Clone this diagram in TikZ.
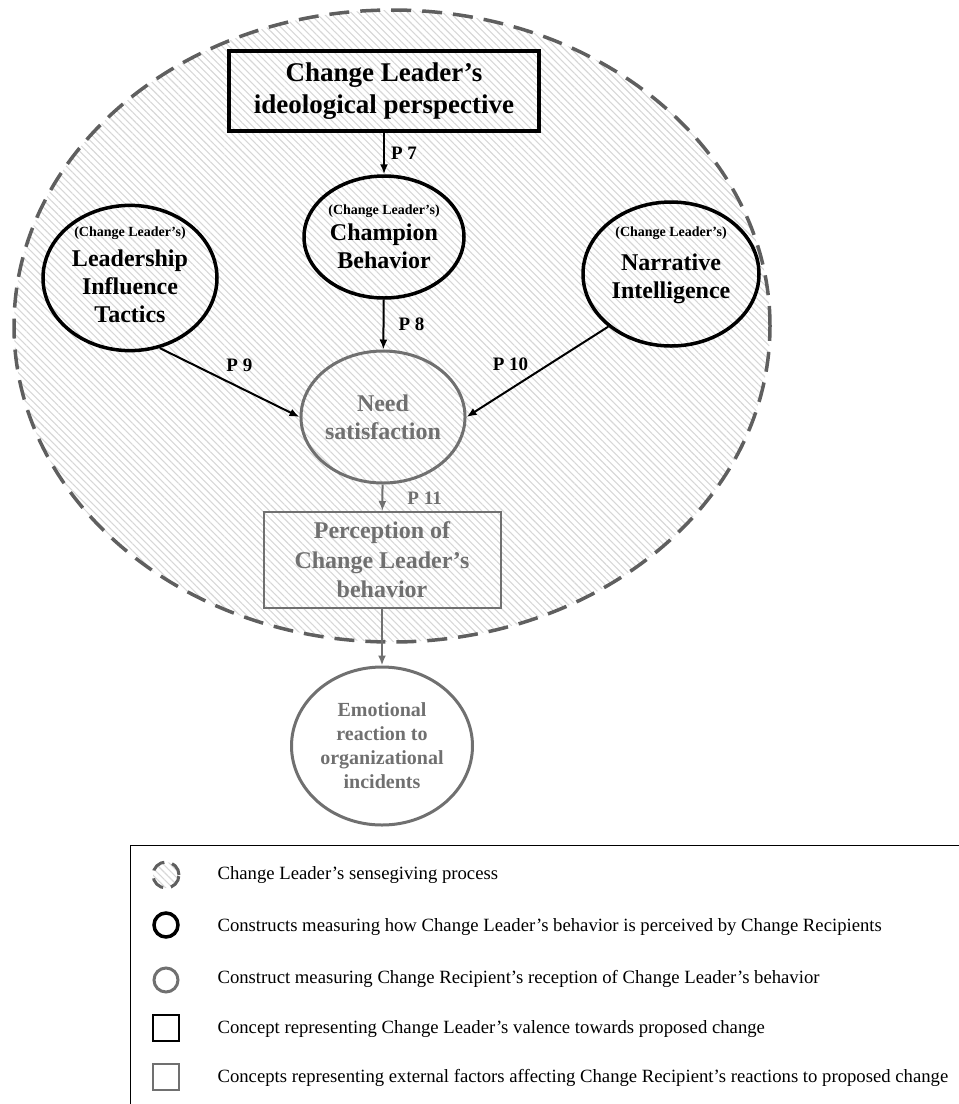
\documentclass[tikz,border=0pt]{standalone}
\usepackage{fontspec}
\setmainfont{Liberation Serif}
\usetikzlibrary{arrows.meta,positioning,shapes.geometric,patterns.meta}
\definecolor{recgray}{RGB}{112,112,112}
\definecolor{dashgray}{RGB}{95,95,95}
\definecolor{hatchgray}{RGB}{215,215,215}
\newcommand{\clsmall}{{\fontsize{14}{16}\selectfont(Change Leader's)}}

\begin{document}
\begin{tikzpicture}[x=1pt,y=-1pt,
  hatch/.style={pattern={Lines[angle=-45,distance=5pt,line width=1.1pt]}, pattern color=hatchgray},
  process/.style={ellipse, draw=dashgray, line width=3.5pt, dash pattern=on 20pt off 11pt, hatch},
  leader/.style={ellipse, draw=black, line width=3.5pt, align=center, inner sep=0pt,
                 font=\fontsize{24}{28}\selectfont\bfseries},
  recip/.style={ellipse, draw=recgray, text=recgray, line width=3pt, align=center, inner sep=0pt,
                font=\fontsize{24}{28}\selectfont\bfseries},
  valence/.style={draw=black, line width=3.5pt, align=center, font=\fontsize{27}{32}\selectfont\bfseries},
  external/.style={draw=recgray, text=recgray, line width=2pt, align=center,
                   font=\fontsize{24}{29.5}\selectfont\bfseries},
  arr/.style={-{Latex[length=10pt,width=8pt]}, line width=2pt},
  grayarr/.style={arr, draw=recgray},
  plabel/.style={font=\fontsize{19}{22}\selectfont\bfseries, inner sep=2pt},
  keytext/.style={anchor=west, font=\fontsize{18.7}{22}\selectfont},
]
\useasboundingbox (0,0) rectangle (959,1104);
\clip (0,0) rectangle (959,1104);

% sensegiving region
\node[process, minimum width=756pt, minimum height=632pt] (sense) at (392,326) {};

% leader side
\node[valence, minimum width=310pt, minimum height=80pt] (ideo) at (384,91) {Change Leader's\\ideological perspective};
\node[leader, minimum width=160pt, minimum height=122pt] (champ) at (384,237) {\clsmall\\[-2pt]Champion\\Behavior};
\node[leader, minimum width=174pt, minimum height=144pt, text depth=7pt] (lead) at (130,278) {\clsmall\\[2pt]Leadership\\Influence\\Tactics};
\node[leader, minimum width=176pt, minimum height=144pt, text depth=23pt] (narr) at (671,274) {\clsmall\\[6pt]Narrative\\Intelligence};

% recipient side
\node[recip, minimum width=154pt, minimum height=132pt] (need) at (383,417) {Need\\satisfaction};
\node[external, minimum width=237pt, minimum height=96pt] (perc) at (382,560) {Perception of\\Change Leader's\\behavior};
\node[recip, minimum width=181pt, minimum height=158pt, font=\fontsize{20}{24}\selectfont\bfseries] (emo) at (382,746) {Emotional\\reaction to\\organizational\\incidents};

% propositions
\draw[arr] (ideo) -- node[plabel, right=4pt] {P 7} (champ);
\draw[arr] (champ) -- node[plabel, right=12pt] {P 8} (need);
\draw[arr] (lead.-67) -- node[plabel, above=13pt, pos=0.57] {P 9} (need.west);
\draw[arr] (narr.220) -- node[plabel, above=15pt, pos=0.69] {P 10} (need.east);
\draw[grayarr] (need) -- node[plabel, text=recgray, right=22pt] {P 11} (perc);
\draw[grayarr] (perc) -- (emo);

% legend
\draw[line width=0.8pt] (130,845) rectangle (990,1130);
\node[circle, hatch, draw=dashgray, line width=3pt, dash pattern=on 14pt off 8pt, minimum size=26pt] (k1) at (166,875) {};
\node[circle, draw=black, line width=3.5pt, minimum size=24pt] (k2) at (166,925) {};
\node[circle, draw=recgray, line width=3pt, minimum size=24pt] (k3) at (166,980) {};
\node[rectangle, draw=black, line width=2.5pt, minimum size=26pt] (k4) at (166,1028) {};
\node[rectangle, draw=recgray, line width=2.5pt, minimum size=26pt] (k5) at (166,1077) {};
\node[keytext] (t1) at (214,875) {Change Leader's sensegiving process};
\node[keytext] (t2) at (214,927) {Constructs measuring how Change Leader's behavior is perceived by Change Recipients};
\node[keytext] (t3) at (214,979) {Construct measuring Change Recipient's reception of Change Leader's behavior};
\node[keytext] (t4) at (214,1029) {Concept representing Change Leader's valence towards proposed change};
\node[keytext] (t5) at (214,1078) {Concepts representing external factors affecting Change Recipient's reactions to proposed change};
\end{tikzpicture}
\end{document}
